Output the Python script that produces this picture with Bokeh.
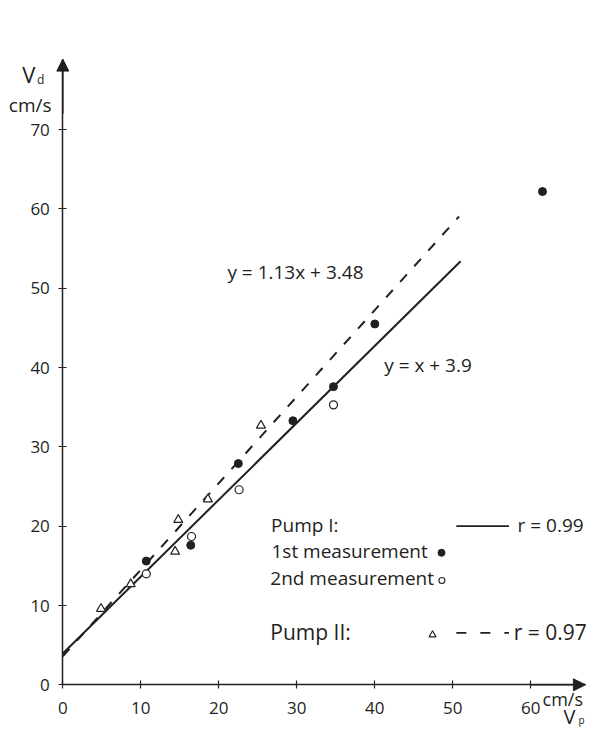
from bokeh.plotting import figure
from bokeh.models import Label, Arrow, NormalHead, FixedTicker, Range1d, LinearAxis
from bokeh.core.properties import value
from bokeh.embed import file_html
from bokeh.resources import INLINE

# ---------------- data ----------------
x_ticks = [0, 10, 20, 30, 40, 50, 60]
y_ticks = [0, 10, 20, 30, 40, 50, 60, 70]

# Pump I, 1st measurement (filled circles)
pump1_first_x = [10.7, 16.4, 22.5, 29.5, 34.7, 40.0, 61.5]
pump1_first_y = [15.6, 17.6, 27.9, 33.3, 37.6, 45.5, 62.2]
# Pump I, 2nd measurement (open circles)
pump1_second_x = [10.7, 16.5, 22.6, 34.7]
pump1_second_y = [14.0, 18.7, 24.6, 35.3]
# Pump II (open triangles)
pump2_x = [4.9, 8.7, 14.4, 14.8, 18.6, 25.4]
pump2_y = [9.6, 12.7, 16.8, 20.8, 23.4, 32.7]

# regression lines (end points)
fit1_x = [0.0, 51.0]     # y = x + 3.9
fit1_y = [3.95, 53.4]
fit2_x = [0.0, 50.8]     # y = 1.13x + 3.48
fit2_y = [3.6, 59.05]

eq1_text = "y = x + 3.9"
eq2_text = "y = 1.13x + 3.48"
legend_texts = ["Pump I:", "1st measurement", "2nd measurement"]
r1_text = "r = 0.99"
pump2_text = "Pump II:"
r2_text = "r = 0.97"

FONT = "Open Sans"
INK = "#231f20"

X_END = 67.0   # arrow tip of the x axis
Y_END = 78.9   # arrow tip of the y axis
DY = 1.0       # baseline correction for text placement

p = figure(width=586, height=730,
           x_range=Range1d(-7.99, 67.14), y_range=Range1d(-5.76, 86.29),
           output_backend="svg", toolbar_location=None,
           x_axis_location=None, y_axis_location=None,
           min_border=0, min_border_left=0, min_border_right=0,
           min_border_top=0, min_border_bottom=0)
p.xgrid.visible = False
p.ygrid.visible = False
p.outline_line_color = None
p.background_fill_color = "white"
p.border_fill_color = "white"

xax = LinearAxis(fixed_location=0, bounds=(0, X_END))
yax = LinearAxis(fixed_location=0, bounds=(0, Y_END))
p.add_layout(xax, "below")
p.add_layout(yax, "left")

for ax, ticks in ((xax, x_ticks), (yax, y_ticks)):
    ax.ticker = FixedTicker(ticks=ticks)
    ax.major_tick_in = 4
    ax.major_tick_out = 4
    ax.minor_tick_line_color = None
    ax.axis_line_width = 1.5
    ax.axis_line_color = INK
    ax.major_tick_line_color = INK
    ax.major_tick_line_width = 1.2
    ax.major_label_text_font = FONT
    ax.major_label_text_font_size = "17px"
    ax.major_label_text_color = INK
yax.major_label_standoff = 9
xax.major_label_standoff = 13

# axis arrows
p.add_layout(Arrow(end=NormalHead(size=12, fill_color=INK, line_color=INK, line_width=1),
                   x_start=0, y_start=72, x_end=0, y_end=Y_END,
                   line_color=INK, line_width=1.5))
p.add_layout(Arrow(end=NormalHead(size=12, fill_color=INK, line_color=INK, line_width=1),
                   x_start=60, y_start=0, x_end=X_END, y_end=0,
                   line_color=INK, line_width=1.5))

# regression lines
p.line(fit1_x, fit1_y, line_color=INK, line_width=2)
p.line(fit2_x, fit2_y, line_color=INK, line_width=2, line_dash="10 11")

# points
p.scatter(pump1_first_x, pump1_first_y, marker="circle", size=8,
          fill_color=INK, line_color=INK)
p.scatter(pump1_second_x, pump1_second_y, marker="circle", size=8,
          fill_color="white", line_color=INK, line_width=1.2)
p.scatter(pump2_x, pump2_y, marker="triangle", size=9,
          fill_color="white", line_color=INK, line_width=1.2)

# texts
def txt(x, y, s, size, align="left"):
    p.text(x=[x], y=[y + DY], text=[s], text_font=value(FONT),
           text_font_size=size, text_color=INK,
           text_baseline="alphabetic", text_align=align)

txt(21.1, 51.0, eq2_text, "19px")
txt(41.2, 39.3, eq1_text, "19px")

# hand-made legend
txt(26.7, 19.1, legend_texts[0], "19px")
txt(26.75, 15.9, legend_texts[1], "19px")
txt(26.6, 12.5, legend_texts[2], "19px")
txt(58.3, 19.2, r1_text, "19px")
txt(26.6, 5.6, pump2_text, "21px")
txt(57.8, 5.67, r2_text, "21px")

p.line([50.45, 57.2], [20.0, 20.0], line_color=INK, line_width=1.8)
p.line([50.45, 57.2], [6.55, 6.55], line_color=INK, line_width=1.8, line_dash="10 14")
p.scatter([48.55], [16.65], marker="circle", size=7, fill_color=INK, line_color=INK)
p.scatter([48.6], [13.15], marker="circle", size=6, fill_color="white",
          line_color=INK, line_width=1.1)
p.scatter([47.4], [6.3], marker="triangle", size=7, fill_color="white",
          line_color=INK, line_width=1.1)

# axis titles
def lab(x, y, s, size):
    p.add_layout(Label(x=x, y=y + DY, text=s, text_font=FONT, text_font_size=size,
                       text_color=INK, text_baseline="alphabetic", text_align="left"))

lab(-5.21, 76.0, "V", "22px")
lab(-3.3, 75.3, "d", "12px")
lab(-6.92, 72.08, "cm/s", "19px")
lab(61.5, -2.75, "cm/s", "18px")
lab(64.2, -5.05, "V", "20px")
lab(66.1, -5.4, "p", "10px")

open("out.html", "w").write(file_html(p, INLINE))
